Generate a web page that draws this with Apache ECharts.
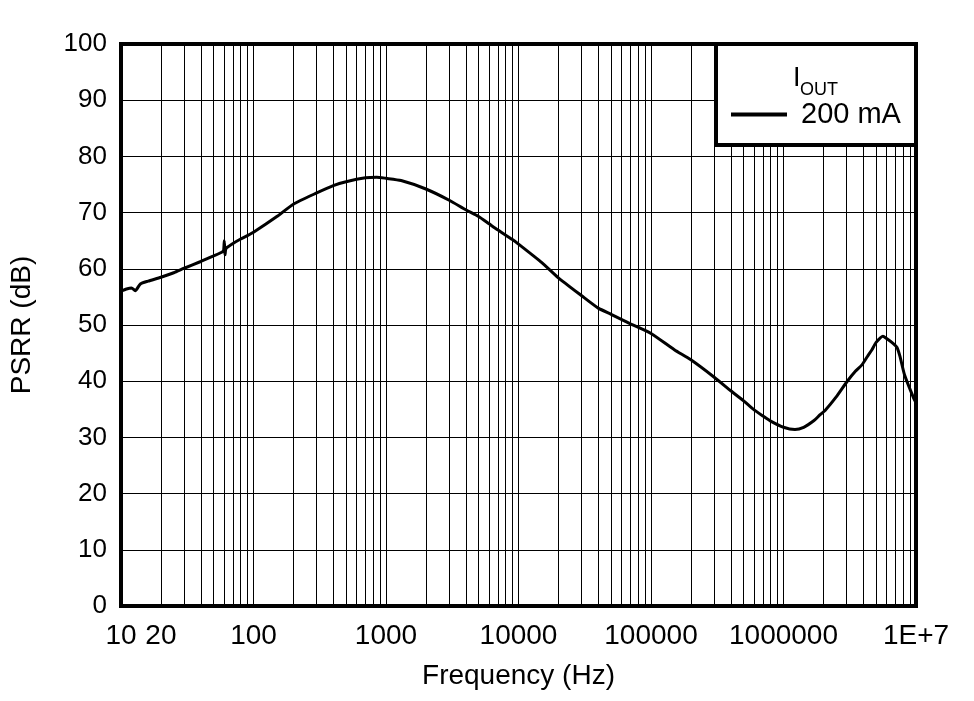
<!DOCTYPE html>
<html>
<head>
<meta charset="utf-8">
<script src="https://cdn.jsdelivr.net/npm/echarts@6/dist/echarts.min.js"></script>
<style>html,body{margin:0;padding:0;background:#fff;}#c{width:974px;height:701px;}</style>
</head>
<body>
<div id="c"></div>
<script>
// Frequency (Hz)
const freq = [10, 11, 12, 12.8, 14, 16, 20, 25, 30, 40, 50, 58, 59.5, 60.2, 61, 62, 70, 80, 90, 100, 150, 200, 300, 400, 500, 700, 850, 1000, 1300, 2000, 3000, 4000, 5000, 6000, 7000, 9000, 10000, 15000, 20000, 30000, 40000, 50000, 70000, 100000, 150000, 200000, 300000, 400000, 500000, 600000, 700000, 800000, 1000000, 1220000, 1420000, 1700000, 1880000, 2060000, 2500000, 3010000, 3500000, 3910000, 4300000, 4650000, 5000000, 5630000, 6000000, 6740000, 7190000, 7570000, 8200000, 9600000, 10000000];
// PSRR (dB)
const psrr = [56.0, 56.4, 56.6, 56.1, 57.3, 57.8, 58.5, 59.3, 60.1, 61.3, 62.3, 63.0, 63.3, 65.0, 62.5, 63.6, 64.5, 65.3, 65.9, 66.5, 69.3, 71.5, 73.5, 74.8, 75.5, 76.2, 76.3, 76.1, 75.7, 74.2, 72.2, 70.5, 69.3, 68.0, 66.9, 65.2, 64.4, 61.1, 58.4, 55.2, 53.0, 51.9, 50.2, 48.5, 45.6, 43.8, 40.7, 38.3, 36.5, 34.9, 33.8, 32.9, 31.8, 31.4, 31.8, 33.0, 34.0, 34.8, 37.2, 39.9, 41.8, 42.9, 44.4, 45.6, 46.9, 48.0, 47.6, 46.7, 46.0, 44.4, 41.1, 37.0, 36.2];

const seriesName = '200 mA';
const xLabelValues = [10, 20, 100, 1000, 10000, 100000, 1000000, 10000000];
const xLabelTexts = ['10', '20', '100', '1000', '10000', '100000', '1000000', '1E+7'];
// minor/major grid positions for the log axis (1..9 per decade)
const xGridValues = [];
for (let d = 10; d < 1e7; d *= 10) { for (let m = 1; m <= 9; m++) xGridValues.push(d * m); }
xGridValues.push(1e7);

const FONT = '"Liberation Sans", Arial, sans-serif';
const data = freq.map((f, i) => [f, psrr[i]]);

const chart = echarts.init(document.getElementById('c'));
chart.setOption({
  animation: false,
  backgroundColor: '#fff',
  grid: { left: 121, right: 58, top: 44, bottom: 95, show: true, borderColor: '#000', borderWidth: 4, z: 3 },
  xAxis: {
    type: 'log', logBase: 10, min: 10, max: 1e7,
    name: 'Frequency (Hz)', nameLocation: 'middle', nameGap: 56,
    nameTextStyle: { fontFamily: FONT, fontSize: 28, color: '#000' },
    axisLine: { show: false },
    axisTick: { show: false, customValues: xGridValues },
    splitLine: { show: true, lineStyle: { color: '#000', width: 1 } },
    axisLabel: {
      customValues: xLabelValues, interval: 0, hideOverlap: false, margin: 16,
      fontFamily: FONT, fontSize: 28, color: '#000',
      formatter: v => { const i = xLabelValues.findIndex(x => Math.abs(x - v) / x < 1e-6); return i >= 0 ? xLabelTexts[i] : ''; }
    }
  },
  yAxis: {
    type: 'value', min: 0, max: 100, interval: 10,
    name: 'PSRR (dB)', nameLocation: 'middle', nameGap: 85, nameRotate: 90,
    nameTextStyle: { fontFamily: FONT, fontSize: 28, color: '#000' },
    axisLine: { show: false }, axisTick: { show: false },
    splitLine: { show: true, lineStyle: { color: '#000', width: 1 } },
    axisLabel: { margin: 14, fontFamily: FONT, fontSize: 26, color: '#000', formatter: v => String(v) }
  },
  legend: {
    left: 726, top: 95, z: 10, padding: 5,
    itemWidth: 56, itemHeight: 4, icon: 'rect',
    data: [seriesName],
    textStyle: { fontFamily: FONT, fontSize: 29, color: '#000', padding: [0, 0, 0, 9] }
  },
  graphic: [
    { type: 'rect', z: 5, shape: { x: 716, y: 44, width: 200, height: 101 }, style: { fill: '#fff', stroke: '#000', lineWidth: 4 } },
    { type: 'text', z: 6, x: 793, y: 79, style: { text: 'I', fontFamily: FONT, fontSize: 27, fill: '#000', verticalAlign: 'middle' } },
    { type: 'text', z: 6, x: 800, y: 90, style: { text: 'OUT', fontFamily: FONT, fontSize: 18, fill: '#000', verticalAlign: 'middle' } }
  ],
  series: [{
    name: seriesName, type: 'line', data: data, showSymbol: false, smooth: 0.2,
    lineStyle: { color: '#000', width: 3 }, itemStyle: { color: '#000' }, z: 4
  }]
});
</script>
</body>
</html>
